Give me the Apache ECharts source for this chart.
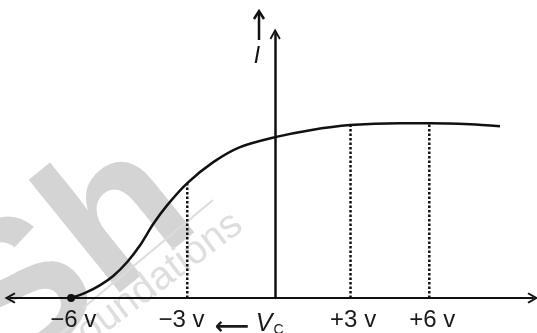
<!DOCTYPE html>
<html>
<head>
<meta charset="utf-8">
<script src="https://cdn.jsdelivr.net/npm/echarts@6/dist/echarts.min.js"></script>
<style>
  html, body { margin: 0; padding: 0; background: #fff; }
  #chart { width: 537px; height: 333px; }
</style>
</head>
<body>
<div id="chart"></div>
<script>
// schematic axis: x in diagram units (right side = volts), y = current I
var curveX = [-7.85, -7.31, -6.73, -6.23, -5.69, -5.19, -4.69, -4.15, -3.38, -2.38, -1.35, 0, 1.35, 2.88, 4.81, 5.96, 7.5, 8.65];
var curveI = [0, 0.29, 0.74, 1.26, 2.06, 3.03, 4.23, 5.31, 6.57, 7.77, 8.63, 9.2, 9.6, 9.89, 10.0, 10.0, 9.94, 9.83];
// dotted drop lines (-3 v, +3 v, +6 v)
var dropX = [-3.38, 2.9, 5.93];
var dropI = [6.6, 9.89, 10.0];
// tick labels below the axis
var labelAt = [-7.77, -3.6, -1.0, 3, 6.04];
var labelText = ['{t|−6 v}', '{t|−3 v}', '{arr|⟵}  {v|V}{sub|C}', '{t|+3 v}', '{t|+6 v}'];

var chevron = 'path://M5,0 L10,9 L8.6,10 L5,3.6 L1.4,10 L0,9 Z';

var myChart = echarts.init(document.getElementById('chart'));

var curveData = curveX.map(function (x, i) {
  if (i === 0) {
    return { value: [x, curveI[i]], symbol: 'circle', symbolSize: 8 };
  }
  return { value: [x, curveI[i]], symbol: 'none' };
});

var series = [{
  type: 'line',
  data: curveData,
  smooth: 0.3,
  showSymbol: true,
  itemStyle: { color: '#111' },
  lineStyle: { color: '#111', width: 2.5 },
  z: 5,
  silent: true
}];

dropX.forEach(function (x, i) {
  series.push({
    type: 'line',
    data: [[x, 0], [x, dropI[i]]],
    symbol: 'none',
    lineStyle: { color: '#111', width: 2.5, type: [2.5, 2] },
    z: 3,
    silent: true
  });
});

myChart.setOption({
  animation: false,
  backgroundColor: '#fff',
  grid: { left: 10, right: 4, top: 34, bottom: 35, containLabel: false, outerBoundsMode: 'none' },
  xAxis: {
    type: 'value',
    min: -10.2,
    max: 9.92,
    splitLine: { show: false },
    axisTick: { show: false },
    axisLine: {
      onZero: true,
      symbol: [chevron, chevron],
      symbolSize: [11, 12],
      lineStyle: { color: '#111', width: 2 }
    },
    axisLabel: {
      customValues: labelAt,
      margin: 10,
      formatter: function (v) {
        var i = labelAt.indexOf(v);
        return i < 0 ? '' : labelText[i];
      },
      rich: {
        t: { fontSize: 24, color: '#1a1a1a', fontFamily: 'Liberation Sans' },
        arr: { fontSize: 24, fontWeight: 'bold', color: '#1a1a1a', fontFamily: 'DejaVu Sans', padding: [8, 0, 0, 0] },
        v: { fontSize: 25, fontStyle: 'italic', color: '#1a1a1a', fontFamily: 'Liberation Sans' },
        sub: { fontSize: 14, color: '#1a1a1a', fontFamily: 'Liberation Sans', padding: [12, 0, 0, 1] }
      }
    }
  },
  yAxis: {
    type: 'value',
    min: 0,
    max: 15.1,
    splitLine: { show: false },
    axisTick: { show: false },
    axisLabel: { show: false },
    axisLine: {
      show: true,
      onZero: true,
      symbol: ['none', chevron],
      symbolSize: [11, 12],
      lineStyle: { color: '#111', width: 2.5 }
    }
  },
  graphic: [
    // faint watermark
    {
      type: 'text', z: -10, silent: true,
      x: 70, y: 262, rotation: 0.68,
      style: {
        text: 'Sh', fill: '#d4d4d4', font: 'bold 200px Liberation Sans',
        align: 'center', verticalAlign: 'middle'
      }
    },
    {
      type: 'text', z: -10, silent: true,
      x: 150, y: 286, rotation: 0.64,
      style: {
        text: 'Foundations', fill: '#dedede', font: '40px Liberation Sans',
        align: 'center', verticalAlign: 'middle'
      }
    },
    {
      type: 'line', z: -10, silent: true,
      shape: { x1: 83, y1: 308, x2: 213, y2: 200 },
      style: { stroke: '#dcdcdc', lineWidth: 2 }
    },
    // current arrow and label
    {
      type: 'line', silent: true,
      shape: { x1: 259, y1: 40, x2: 259, y2: 13 },
      style: { stroke: '#111', lineWidth: 2.5 }
    },
    {
      type: 'polyline', silent: true,
      shape: { points: [[254, 19], [259, 11], [264, 19]] },
      style: { stroke: '#111', lineWidth: 2.5, fill: null }
    },
    {
      type: 'text', silent: true,
      x: 257, y: 57,
      style: {
        text: 'I', fill: '#111', font: 'italic 23px Liberation Sans',
        align: 'center', verticalAlign: 'middle'
      }
    }
  ],
  series: series
});
</script>
</body>
</html>
